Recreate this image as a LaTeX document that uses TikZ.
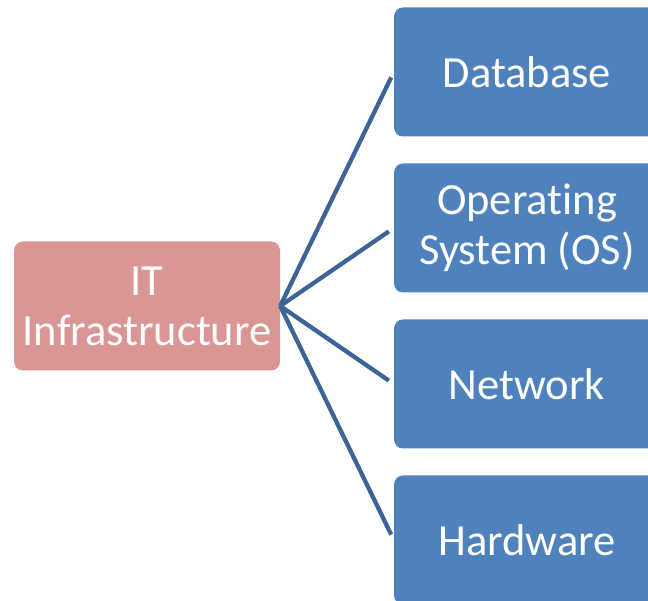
\documentclass[tikz,border=0pt]{standalone}
\usepackage{fontspec}
\setmainfont[Ligatures={NoCommon}]{Carlito}
\definecolor{boxblue}{HTML}{4F81BD}
\definecolor{boxpink}{HTML}{D99694}
\definecolor{linkblue}{HTML}{3C6496}
\begin{document}
\begin{tikzpicture}[x=1pt,y=1pt,
  boxbase/.style={rounded corners=9pt, minimum width=266pt, minimum height=129pt,
    text=white, align=center, inner sep=0pt,
    font=\fontsize{44.5}{50}\selectfont},
  leafbox/.style={boxbase, fill=boxblue},
  rootbox/.style={boxbase, fill=boxpink},
  link/.style={draw=linkblue, line width=4.3pt, shorten >=6pt}]
\useasboundingbox (0,0) rectangle (648,601);
\node[rootbox] (root) at (147,295) {IT\\Infrastructure};
\node[leafbox] (db) at (527,529) {Database};
\node[leafbox] (os) at (527,373) {Operating\\System (OS)};
\node[leafbox] (net) at (527,217) {Network};
\node[leafbox] (hw) at (527,61) {Hardware};
\foreach \t in {db,os,net,hw}
  \draw[link] (root.east) -- (\t.west);
\end{tikzpicture}
\end{document}
